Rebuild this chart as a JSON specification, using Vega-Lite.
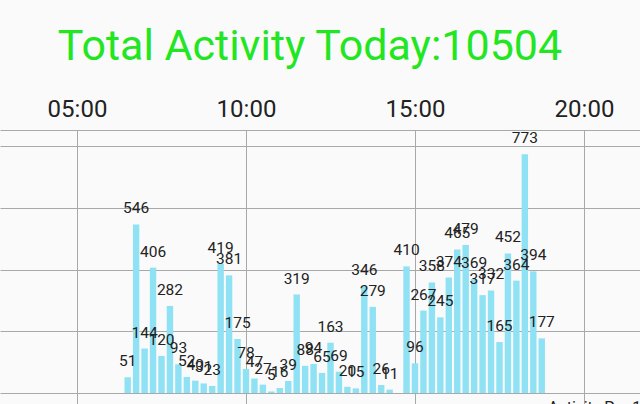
{
  "$schema": "https://vega.github.io/schema/vega-lite/v6.json",
  "width": 640,
  "height": 274,
  "autosize": {"type": "none"},
  "padding": {"top": 130, "left": 0, "right": 0, "bottom": 0},
  "background": "#fafafa",
  "title": {
    "text": "Total Activity Today:10504",
    "color": "#22e622",
    "font": "Roboto",
    "fontSize": 43,
    "fontWeight": "normal",
    "anchor": "middle",
    "frame": "group",
    "baseline": "alphabetic",
    "offset": -6,
    "dx": -10
  },
  "config": {"view": {"stroke": null}},
  "data": {
    "values": [
      {"t": "2024-01-01T06:30", "v": 51},
      {"t": "2024-01-01T06:45", "v": 546},
      {"t": "2024-01-01T07:00", "v": 144},
      {"t": "2024-01-01T07:15", "v": 406},
      {"t": "2024-01-01T07:30", "v": 120},
      {"t": "2024-01-01T07:45", "v": 282},
      {"t": "2024-01-01T08:00", "v": 93},
      {"t": "2024-01-01T08:15", "v": 52},
      {"t": "2024-01-01T08:30", "v": 40},
      {"t": "2024-01-01T08:45", "v": 31},
      {"t": "2024-01-01T09:00", "v": 23},
      {"t": "2024-01-01T09:15", "v": 419},
      {"t": "2024-01-01T09:30", "v": 381},
      {"t": "2024-01-01T09:45", "v": 175},
      {"t": "2024-01-01T10:00", "v": 78},
      {"t": "2024-01-01T10:15", "v": 47},
      {"t": "2024-01-01T10:30", "v": 27},
      {"t": "2024-01-01T10:45", "v": 5},
      {"t": "2024-01-01T11:00", "v": 16},
      {"t": "2024-01-01T11:15", "v": 39},
      {"t": "2024-01-01T11:30", "v": 319},
      {"t": "2024-01-01T11:45", "v": 88},
      {"t": "2024-01-01T12:00", "v": 94},
      {"t": "2024-01-01T12:15", "v": 65},
      {"t": "2024-01-01T12:30", "v": 163},
      {"t": "2024-01-01T12:45", "v": 69},
      {"t": "2024-01-01T13:00", "v": 20},
      {"t": "2024-01-01T13:15", "v": 15},
      {"t": "2024-01-01T13:30", "v": 346},
      {"t": "2024-01-01T13:45", "v": 279},
      {"t": "2024-01-01T14:00", "v": 26},
      {"t": "2024-01-01T14:15", "v": 11},
      {"t": "2024-01-01T14:45", "v": 410},
      {"t": "2024-01-01T15:00", "v": 96},
      {"t": "2024-01-01T15:15", "v": 267},
      {"t": "2024-01-01T15:30", "v": 358},
      {"t": "2024-01-01T15:45", "v": 245},
      {"t": "2024-01-01T16:00", "v": 374},
      {"t": "2024-01-01T16:15", "v": 465},
      {"t": "2024-01-01T16:30", "v": 479},
      {"t": "2024-01-01T16:45", "v": 369},
      {"t": "2024-01-01T17:00", "v": 317},
      {"t": "2024-01-01T17:15", "v": 332},
      {"t": "2024-01-01T17:30", "v": 165},
      {"t": "2024-01-01T17:45", "v": 452},
      {"t": "2024-01-01T18:00", "v": 364},
      {"t": "2024-01-01T18:15", "v": 773},
      {"t": "2024-01-01T18:30", "v": 394},
      {"t": "2024-01-01T18:45", "v": 177}
    ]
  },
  "encoding": {
    "x": {
      "field": "t",
      "type": "temporal",
      "scale": {
        "domain": [
          {"year": 2024, "month": 1, "date": 1, "hours": 2, "minutes": 43, "seconds": 20},
          {"year": 2024, "month": 1, "date": 1, "hours": 21, "minutes": 39, "seconds": 25}
        ],
        "padding": 0,
        "nice": false
      },
      "axis": {
        "orient": "top",
        "title": null,
        "format": "%H:%M",
        "values": [
          {"year": 2024, "month": 1, "date": 1, "hours": 5},
          {"year": 2024, "month": 1, "date": 1, "hours": 10},
          {"year": 2024, "month": 1, "date": 1, "hours": 15},
          {"year": 2024, "month": 1, "date": 1, "hours": 20}
        ],
        "ticks": false,
        "domain": true,
        "domainColor": "#a8a8a8",
        "domainWidth": 1,
        "grid": true,
        "gridColor": "#a8a8a8",
        "gridWidth": 1,
        "gridOpacity": 1,
        "labelFont": "Roboto",
        "labelFontSize": 24,
        "labelColor": "#222222",
        "labelBaseline": "alphabetic",
        "labelPadding": 14,
        "labelFlush": false,
        "labelOverlap": false
      }
    }
  },
  "layer": [
    {
      "mark": {"type": "bar", "size": 6.4, "color": "#8fe1f4"},
      "encoding": {
        "y": {
          "field": "v",
          "type": "quantitative",
          "scale": {"domain": [-35.6, 851.8], "nice": false, "zero": false},
          "axis": {
            "title": null,
            "labels": false,
            "ticks": false,
            "domain": false,
            "grid": true,
            "gridColor": "#a8a8a8",
            "gridWidth": 1,
            "gridOpacity": 1,
            "values": [0, 200, 400, 600, 800]
          }
        },
        "y2": {"datum": 0}
      }
    },
    {
      "mark": {"type": "text", "font": "Roboto", "fontSize": 15.5, "color": "#222222", "baseline": "alphabetic", "dy": -11},
      "encoding": {
        "y": {"field": "v", "type": "quantitative"},
        "text": {"field": "v", "type": "quantitative"}
      }
    },
    {
      "data": {"values": [{"label": "Activity Per 15 Min", "t": "2024-01-01T18:56", "v": -24}]},
      "mark": {"type": "text", "align": "left", "baseline": "top", "font": "Roboto", "fontSize": 16, "color": "#222222"},
      "encoding": {
        "y": {"field": "v", "type": "quantitative"},
        "text": {"field": "label"}
      }
    }
  ]
}
